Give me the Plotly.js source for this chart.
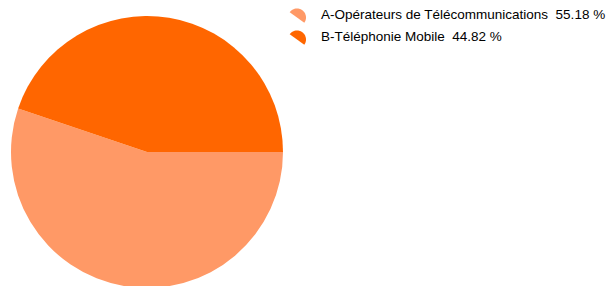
<!DOCTYPE html>
<html><head><meta charset="utf-8">
<script src="https://cdn.plot.ly/plotly-3.0.1.min.js"></script>
<style>html,body{margin:0;padding:0;overflow:hidden;background:#fff}</style>
</head><body>
<div id="chart" style="width:616px;height:290px"></div>
<script>
const labels = ["A-Opérateurs de Télécommunications  55.18 %", "B-Téléphonie Mobile  44.82 %"];
const values = [55.18, 44.82];
const colors = ["#FF9966", "#FF6600"];

const W = 616, H = 290, M = {l: 11, r: 0, t: 16, b: 2};
const pw = W - M.l - M.r, ph = H - M.t - M.b;
const px2x = px => (px - M.l) / pw;
const py2y = py => (H - M.b - py) / ph;

// legend icon: half-disc wedge like the reference (drawn in paper coords)
function wedgePath(cx, cy, r, angDeg) {
  const a = angDeg * Math.PI / 180;
  const d = [Math.cos(a), Math.sin(a)], n = [Math.sin(a), -Math.cos(a)];
  let pts = [];
  for (let i = 0; i <= 32; i++) {
    const t = Math.PI * i / 32;
    const sx = cx + r * (Math.cos(t) * d[0] + Math.sin(t) * n[0]);
    const sy = cy + r * (Math.cos(t) * d[1] + Math.sin(t) * n[1]);
    pts.push((i ? "L" : "M") + px2x(sx).toFixed(5) + "," + py2y(sy).toFixed(5));
  }
  return pts.join(" ") + " Z";
}

const legX = 297, legY0 = 17.5, legDy = 22;
const shapes = [], annotations = [];
labels.forEach((lab, i) => {
  const cy = legY0 + i * legDy;
  shapes.push({type: "path", xref: "paper", yref: "paper",
    path: wedgePath(legX, cy, 9, 36), fillcolor: colors[i], line: {width: 0}});
  annotations.push({xref: "paper", yref: "paper", x: px2x(319), y: py2y(cy - 3),
    xanchor: "left", yanchor: "middle", showarrow: false, text: lab,
    font: {family: "Liberation Sans, Arial, sans-serif", size: 13.5, color: "#000"}});
});

Plotly.newPlot("chart", [{
  type: "pie",
  labels: labels,
  values: values,
  marker: {colors: colors, line: {width: 0}},
  sort: false,
  direction: "clockwise",
  rotation: 90,
  textinfo: "none",
  hoverinfo: "label",
  domain: {x: [0, 272 / pw], y: [0, 1]}
}], {
  width: W, height: H,
  margin: M,
  showlegend: false,
  shapes: shapes,
  annotations: annotations,
  paper_bgcolor: "#fff"
}, {displayModeBar: false, staticPlot: true});
</script>
</body></html>
